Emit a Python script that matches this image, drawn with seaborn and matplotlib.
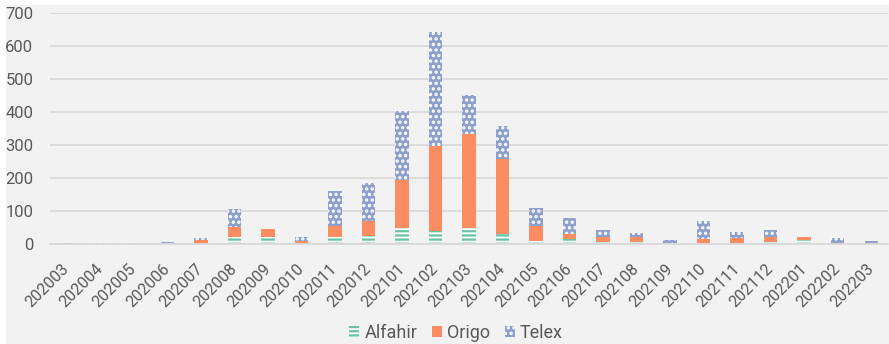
import matplotlib
matplotlib.use('Agg')
import matplotlib.pyplot as plt
import seaborn as sns
import pandas as pd
from matplotlib.patches import Patch, Rectangle

# 数据
months = ['202003', '202004', '202005', '202006', '202007', '202008', '202009',
          '202010', '202011', '202012', '202101', '202102', '202103', '202104',
          '202105', '202106', '202107', '202108', '202109', '202110', '202111',
          '202112', '202201', '202202', '202203']
alfahir = [0, 0, 0, 0, 0, 22, 20, 0, 20, 25, 47, 40, 48, 30, 8, 15, 5, 5, 0, 0, 3, 5, 12, 0, 0]
origo = [4, 0, 0, 0, 13, 31, 25, 8, 36, 44, 147, 258, 284, 228, 47, 15, 17, 15, 0, 14, 15, 15, 8, 4, 4]
telex = [0, 3, 3, 5, 6, 53, 0, 14, 105, 116, 209, 344, 120, 99, 54, 48, 20, 14, 12, 57, 17, 22, 0, 15, 6]

sns.set_theme(style='white')
plt.rcParams['font.family'] = ['Roboto', 'DejaVu Sans']
plt.rcParams['hatch.linewidth'] = 1.6

df = pd.DataFrame({'month': months, 'Alfahir': alfahir, 'Origo': origo, 'Telex': telex})
bottom_telex = (df['Alfahir'] + df['Origo']).values

green, orange, blue = '#66c2a5', '#fc8d62', '#8da0cb'
bg = '#f2f2f2'
txt = '#595959'

fig = plt.figure(figsize=(8.89, 3.44), dpi=100, facecolor='white')
fig.add_artist(Rectangle((6 / 889, 0), 1, 1 - 5 / 344, transform=fig.transFigure,
                         facecolor=bg, edgecolor='none', zorder=-5))
ax = fig.add_axes([50 / 889, 100 / 344, 838 / 889, 231 / 344])
ax.set_facecolor(bg)

# 堆叠柱：Alfahir（横线）→ Origo（实色）→ Telex（点状）
sns.barplot(data=df, x='month', y='Alfahir', color='white', saturation=1,
            edgecolor=green, hatch='----', linewidth=0, width=0.4,
            errorbar=None, ax=ax)
sns.barplot(data=df, x='month', y='Origo', bottom=df['Alfahir'].values, color=orange,
            saturation=1, linewidth=0, width=0.4, errorbar=None, ax=ax)
sns.barplot(data=df, x='month', y='Telex', bottom=bottom_telex, color=blue,
            saturation=1, edgecolor='white', hatch='...', linewidth=0, width=0.4,
            errorbar=None, ax=ax)

ax.set_ylim(0, 700)
ax.set_yticks(range(0, 701, 100))
ax.set_xlim(-0.5, len(months) - 0.5)
ax.set_xlabel('')
ax.set_ylabel('')
ax.yaxis.grid(True, color='#d9d9d9', linewidth=1.3)
ax.set_axisbelow(True)
for s in ['top', 'right', 'left']:
    ax.spines[s].set_visible(False)
ax.spines['bottom'].set_color('#d9d9d9')
ax.spines['bottom'].set_linewidth(1.3)

ax.tick_params(axis='y', length=0, labelsize=12, labelcolor=txt, pad=12)
ax.tick_params(axis='x', length=0, labelsize=11.5, labelcolor=txt, pad=16)
for lab in ax.get_xticklabels():
    lab.set_rotation(45)
    lab.set_ha('right')
    lab.set_va('center')
    lab.set_rotation_mode('anchor')

handles = [
    Patch(facecolor='white', edgecolor=green, hatch='----', linewidth=0, label='Alfahir'),
    Patch(facecolor=orange, linewidth=0, label='Origo'),
    Patch(facecolor=blue, edgecolor='white', hatch='...', linewidth=0, label='Telex'),
]
fig.legend(handles=handles, loc='center', bbox_to_anchor=(456 / 889, 1 - 333 / 344),
           ncol=3, frameon=False, fontsize=13, labelcolor=txt,
           handlelength=0.55, handleheight=0.6, handletextpad=0.3, columnspacing=0.8)

fig.savefig('out.png', dpi=100, facecolor=fig.get_facecolor())
